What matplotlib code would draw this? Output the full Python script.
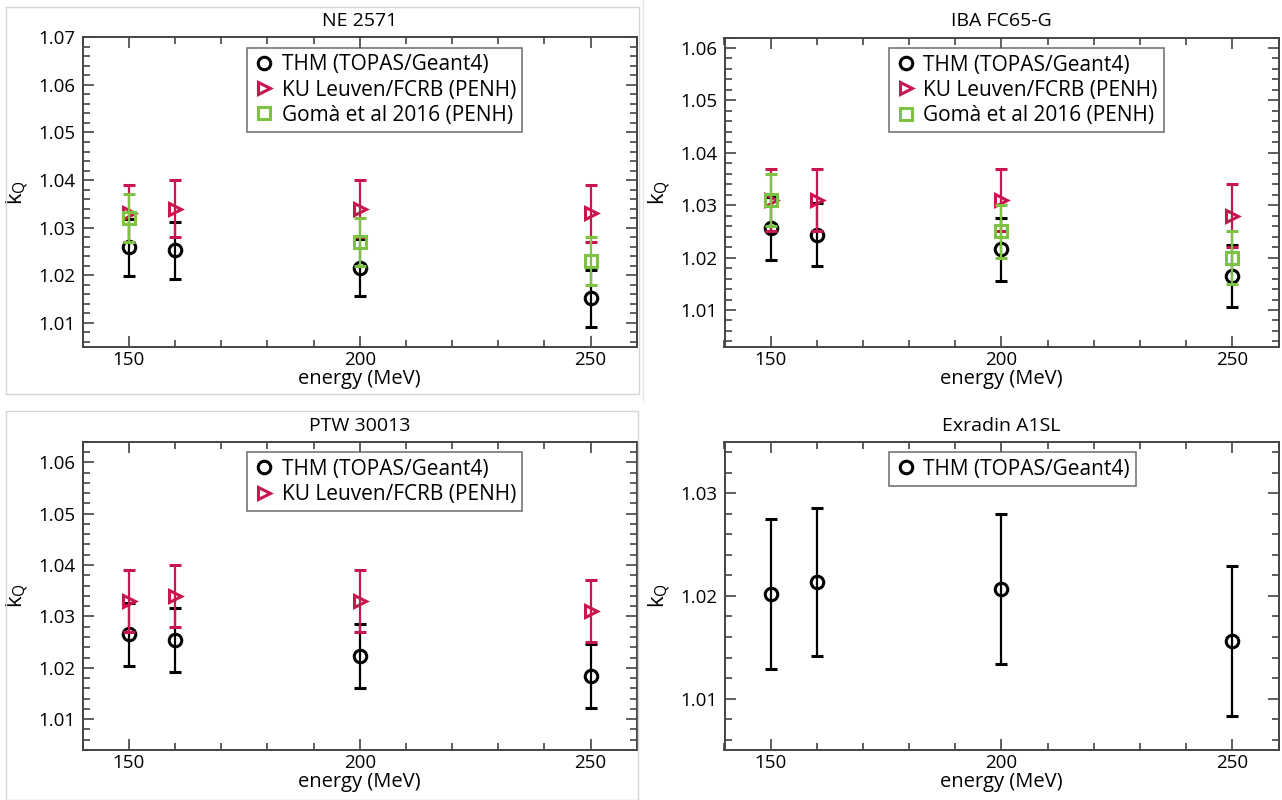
import matplotlib
matplotlib.use("Agg")
import matplotlib.pyplot as plt
from matplotlib.patches import Rectangle
from matplotlib.lines import Line2D
from matplotlib.ticker import MultipleLocator

plt.rcParams["font.family"] = ["Open Sans", "DejaVu Sans"]

# energias (MeV)
energias = [150, 160, 200, 250]
energias_goma = [150, 200, 250]

# NE 2571
ne_thm = [1.0259, 1.0253, 1.0216, 1.0152]
ne_thm_err = [0.006, 0.006, 0.006, 0.006]
ne_ku = [1.033, 1.034, 1.034, 1.033]
ne_ku_err = [0.006, 0.006, 0.006, 0.006]
ne_goma = [1.032, 1.027, 1.023]
ne_goma_err = [0.005, 0.005, 0.005]

# IBA FC65-G
iba_thm = [1.0256, 1.0244, 1.0216, 1.0165]
iba_thm_err = [0.006, 0.006, 0.006, 0.006]
iba_ku = [1.031, 1.031, 1.031, 1.028]
iba_ku_err = [0.006, 0.006, 0.006, 0.006]
iba_goma = [1.031, 1.025, 1.020]
iba_goma_err = [0.005, 0.005, 0.005]

# PTW 30013
ptw_thm = [1.0265, 1.0254, 1.0223, 1.0184]
ptw_thm_err = [0.0062, 0.0062, 0.0062, 0.0062]
ptw_ku = [1.033, 1.034, 1.033, 1.031]
ptw_ku_err = [0.006, 0.006, 0.006, 0.006]

# Exradin A1SL
ex_thm = [1.0202, 1.0213, 1.0207, 1.0156]
ex_thm_err = [0.0073, 0.0072, 0.0073, 0.0073]

NEGRO = "black"
ROJO = "#c8174f"
VERDE = "#7dc242"
LBL_THM = "THM (TOPAS/Geant4)"
LBL_KU = "KU Leuven/FCRB (PENH)"
LBL_GOMA = "Gomà et al 2016 (PENH)"


def serie(ax, x, y, err, color, marker, z):
    ax.errorbar(x, y, yerr=err, fmt=marker, color=color, ecolor=color,
                mfc="none", mec=color, ms=9, mew=2.2, elinewidth=1.6,
                capsize=4.6, capthick=2.2, zorder=z)


def panel(ax, titulo, ylim, leyenda):
    ax.set_xlim(140, 260)
    ax.set_ylim(*ylim)
    ax.xaxis.set_major_locator(MultipleLocator(50))
    ax.xaxis.set_minor_locator(MultipleLocator(10))
    ax.yaxis.set_major_locator(MultipleLocator(0.01))
    ax.yaxis.set_minor_locator(MultipleLocator(0.002))
    ax.yaxis.set_major_formatter(plt.FuncFormatter(lambda v, p: f"{v:.2f}"))
    ax.tick_params(which="both", direction="in", top=True, right=True,
                   color="#444444", labelsize=13.5, width=1.2)
    ax.tick_params(which="major", length=8, pad=5)
    ax.tick_params(axis="x", which="major", pad=3)
    ax.tick_params(which="minor", length=5)
    for s in ax.spines.values():
        s.set_color("#444444")
        s.set_linewidth(1.4)
    ax.set_title(titulo, fontsize=14, pad=8)
    ax.set_xlabel("energy (MeV)", fontsize=14.5, labelpad=0)
    ax.set_ylabel(r"k$_\mathregular{Q}$", fontsize=16, labelpad=6)
    handles = []
    for lbl, color, marker in leyenda:
        handles.append(Line2D([], [], ls="none", marker=marker, color=color,
                              mfc="none", mec=color, ms=9, mew=2.2, label=lbl))
    leg = ax.legend(handles=handles, loc="upper left",
                    bbox_to_anchor=(0.297, 0.965), borderaxespad=0,
                    fontsize=15, frameon=True, fancybox=False,
                    handletextpad=0.35, handlelength=1.0, borderpad=0.3,
                    labelspacing=0.2)
    leg.get_frame().set_edgecolor("#555555")
    leg.get_frame().set_linewidth(1.2)


fig = plt.figure(figsize=(12.82, 8), dpi=100)
W, H = 1282.0, 800.0


def ejes(left, top, right, bottom):
    return fig.add_axes([left / W, 1 - bottom / H, (right - left) / W, (bottom - top) / H])


ax1 = ejes(82.7, 37.3, 636.7, 346.7)
ax2 = ejes(724.5, 37.5, 1278.5, 346.7)
ax3 = ejes(82.7, 441.7, 636.7, 750)
ax4 = ejes(724.5, 441.7, 1278.5, 750)

serie(ax1, energias, ne_thm, ne_thm_err, NEGRO, "o", 3)
serie(ax1, energias, ne_ku, ne_ku_err, ROJO, ">", 4)
serie(ax1, energias_goma, ne_goma, ne_goma_err, VERDE, "s", 5)
panel(ax1, "NE 2571", (1.005, 1.07),
      [(LBL_THM, NEGRO, "o"), (LBL_KU, ROJO, ">"), (LBL_GOMA, VERDE, "s")])

serie(ax2, energias, iba_thm, iba_thm_err, NEGRO, "o", 3)
serie(ax2, energias, iba_ku, iba_ku_err, ROJO, ">", 4)
serie(ax2, energias_goma, iba_goma, iba_goma_err, VERDE, "s", 5)
panel(ax2, "IBA FC65-G", (1.003, 1.062),
      [(LBL_THM, NEGRO, "o"), (LBL_KU, ROJO, ">"), (LBL_GOMA, VERDE, "s")])

serie(ax3, energias, ptw_thm, ptw_thm_err, NEGRO, "o", 3)
serie(ax3, energias, ptw_ku, ptw_ku_err, ROJO, ">", 4)
panel(ax3, "PTW 30013", (1.004, 1.064),
      [(LBL_THM, NEGRO, "o"), (LBL_KU, ROJO, ">")])

serie(ax4, energias, ex_thm, ex_thm_err, NEGRO, "o", 3)
panel(ax4, "Exradin A1SL", (1.005, 1.035),
      [(LBL_THM, NEGRO, "o")])

# marcos grises de cada panel
gris = "#d4d4d4"
fig.add_artist(Rectangle((6 / W, 1 - 394 / H), 632.7 / W, 387 / H,
                         transform=fig.transFigure, fill=False, ec=gris, lw=1))
fig.add_artist(Rectangle((6 / W, 0), 632 / W, 1 - 411 / H,
                         transform=fig.transFigure, fill=False, ec=gris, lw=1))
fig.add_artist(Line2D([643 / W, 643 / W], [1 - 400 / H, 1],
                      transform=fig.transFigure, color="#e6e6e6", lw=1))

fig.savefig("out.png", dpi=100)
